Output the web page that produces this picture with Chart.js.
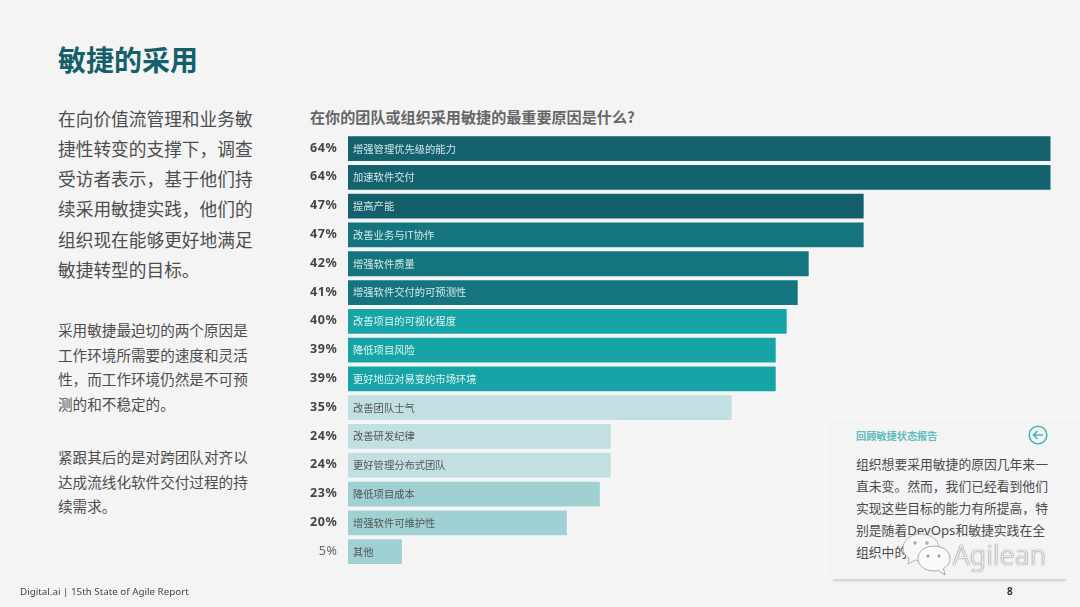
<!DOCTYPE html>
<html lang="zh-CN"><head><meta charset="utf-8">
<script src="https://cdn.jsdelivr.net/npm/chart.js@4"></script>
<style>
html,body{margin:0;padding:0;background:#f4f4f4;width:1080px;height:607px;overflow:hidden}
body{position:relative;font-family:"Noto Sans CJK SC","Noto Sans",sans-serif;color:#4a4a4a}
.t{position:absolute;white-space:nowrap}
#chartWrap{position:absolute;left:0;top:0;width:1080px;height:607px}
h1{position:absolute;margin:0;left:58px;top:40px;font-size:28px;line-height:38px;font-weight:700;color:#135f6b}
.p1{left:58px;top:102.500px;font-size:17.7px;line-height:30.3px;color:#4d4d4d}
.p2{left:58px;top:318px;font-size:14.6px;line-height:24.6px;color:#4d4d4d}
.p3{left:58px;top:445px;font-size:14.6px;line-height:24.6px;color:#4d4d4d}
.ct{left:310px;top:105px;font-size:15.1px;line-height:22px;font-weight:700;color:#666}
.foot{left:20px;top:584px;font:9.800px/16px "Noto Sans",sans-serif;color:#444}
.page{left:1007px;top:583px;font:700 10px/16px "Noto Sans",sans-serif;color:#333}
#card{position:absolute;left:825px;top:416px;width:255px;height:162px;background:#f4f4f4;border-left:1px solid #fafafa;border-top:1px solid #fafafa}
#shadow{position:absolute;left:833px;top:577px;width:233px;height:4px;background:#cfcfcf;filter:blur(1px)}
.ch{left:856px;top:428px;font-size:10.2px;line-height:16px;font-weight:700;color:#62bcbd}
.cb{left:856px;top:453px;font-size:12.8px;line-height:22px;color:#4a4a4a}
.cb span{font-family:"Noto Sans",sans-serif;font-size:13.2px}
#ico{position:absolute;left:1027px;top:424px}
#wm{position:absolute;left:901px;top:533px}
.ag{left:953px;top:536px;font:300 27px/38px "Noto Sans",sans-serif;color:#f0f0f0;letter-spacing:.4px;text-shadow:0 0 1px #777,0 0 1px #777}
</style></head><body>
<h1>敏捷的采用</h1>
<div class="t p1">在向价值流管理和业务敏<br>捷性转变的支撑下，调查<br>受访者表示，基于他们持<br>续采用敏捷实践，他们的<br>组织现在能够更好地满足<br>敏捷转型的目标。</div>
<div class="t p2">采用敏捷最迫切的两个原因是<br>工作环境所需要的速度和灵活<br>性，而工作环境仍然是不可预<br>测的和不稳定的。</div>
<div class="t p3">紧跟其后的是对跨团队对齐以<br>达成流线化软件交付过程的持<br>续需求。</div>
<div class="t ct">在你的团队或组织采用敏捷的最重要原因是什么?</div>
<div id="chartWrap"><canvas id="c" width="1080" height="607"></canvas></div>
<div id="shadow"></div>
<div id="card"></div>
<div class="t ch">回顾敏捷状态报告</div>
<svg id="ico" width="22" height="22" viewBox="0 0 22 22"><circle cx="11" cy="11" r="8.8" fill="none" stroke="#45b6b8" stroke-width="1.6"/><path d="M16 11H6.5M10.5 7l-4 4 4 4" fill="none" stroke="#45b6b8" stroke-width="1.6"/></svg>
<div class="t cb">组织想要采用敏捷的原因几年来一<br>直未变。然而，我们已经看到他们<br>实现这些目标的能力有所提高，特<br>别是随着<span>DevOps</span>和敏捷实践在全<br>组织中的</div>
<svg id="wm" width="52" height="46" viewBox="0 0 52 46"><path d="M20 1C10 1 2 7.500 2 15c0 4 2.500 8 6 10l-1 6 7-4c2 .5 4 .7 6 .7 10 0 18-6 18-13S30 1 20 1z" fill="#f8f8f8" stroke="#999" stroke-width=".7"/><path d="M33 13c-9 0-16 5.500-16 12.500S24 38 33 38c1.500 0 3-.2 4.500-.6L44 42l-1.500-6.500C46.500 33 49 29.500 49 25.500 49 18.500 42 13 33 13z" fill="#fafafa" stroke="#888" stroke-width=".7"/><circle cx="14" cy="10" r="1.800" fill="#aaa"/><circle cx="26" cy="10" r="1.800" fill="#aaa"/><circle cx="27" cy="23" r="1.500" fill="#999"/><circle cx="38" cy="23" r="1.500" fill="#999"/></svg>
<div class="t ag">Agilean</div>
<div class="t foot">Digital.ai | 15th State of Agile Report</div>
<div class="t page">8</div>
<script>
const categories = ["增强管理优先级的能力","加速软件交付","提高产能","改善业务与IT协作","增强软件质量","增强软件交付的可预测性","改善项目的可视化程度","降低项目风险","更好地应对易变的市场环境","改善团队士气","改善研发纪律","更好管理分布式团队","降低项目成本","增强软件可维护性","其他"];
const values = [64,64,47,47,42,41,40,39,39,35,24,24,23,20,5];
const barColors = ["#13626e","#13626e","#135f6b","#14757f","#14757f","#14757f","#17a4a6","#17a4a6","#17a4a6","#c2e0e1","#c2e0e1","#c2e0e1","#9fd1d2","#9fd1d2","#9fd1d2"];
const labelColors = ["#d8e8ea","#d8e8ea","#d8e8ea","#d8e8ea","#d8e8ea","#d8e8ea","#e3f4f4","#e3f4f4","#e3f4f4","#555","#555","#555","#555","#555","#555"];

const pctLabels = {
  id:'pctLabels',
  afterDatasetsDraw(chart){
    const {ctx,scales:{y}} = chart;
    ctx.save();
    ctx.textAlign='right';ctx.textBaseline='middle';
    values.forEach((v,i)=>{
      ctx.font=(v<10?'400':'700')+' 12.5px "Noto Sans",sans-serif';
      ctx.fillStyle=v<10?'#666':'#444';
      ctx.letterSpacing='0.6px';
      ctx.fillText(v+'%',337.5,y.getPixelForValue(i)-0.5);
    });
    ctx.restore();
  }
};
new Chart(document.getElementById('c'),{
  type:'bar',
  data:{labels:categories,datasets:[{data:values,backgroundColor:barColors,borderColor:'rgba(255,255,255,0.35)',borderWidth:1,barPercentage:0.93,categoryPercentage:1}]},
  plugins:[pctLabels],
  options:{
    indexAxis:'y',responsive:false,animation:false,devicePixelRatio:1,
    layout:{padding:{left:338,right:28.5,top:134.2,bottom:41}},
    plugins:{legend:{display:false},tooltip:{enabled:false}},
    scales:{
      x:{display:false,min:0,max:64},
      y:{position:'left',grid:{display:false,drawTicks:false},border:{display:false},
         ticks:{z:1,mirror:true,padding:5,autoSkip:false,color:c=>labelColors[c.index],font:{family:'"Noto Sans CJK SC"',size:10.3}}}
    }
  }
});
</script>
</body></html>
